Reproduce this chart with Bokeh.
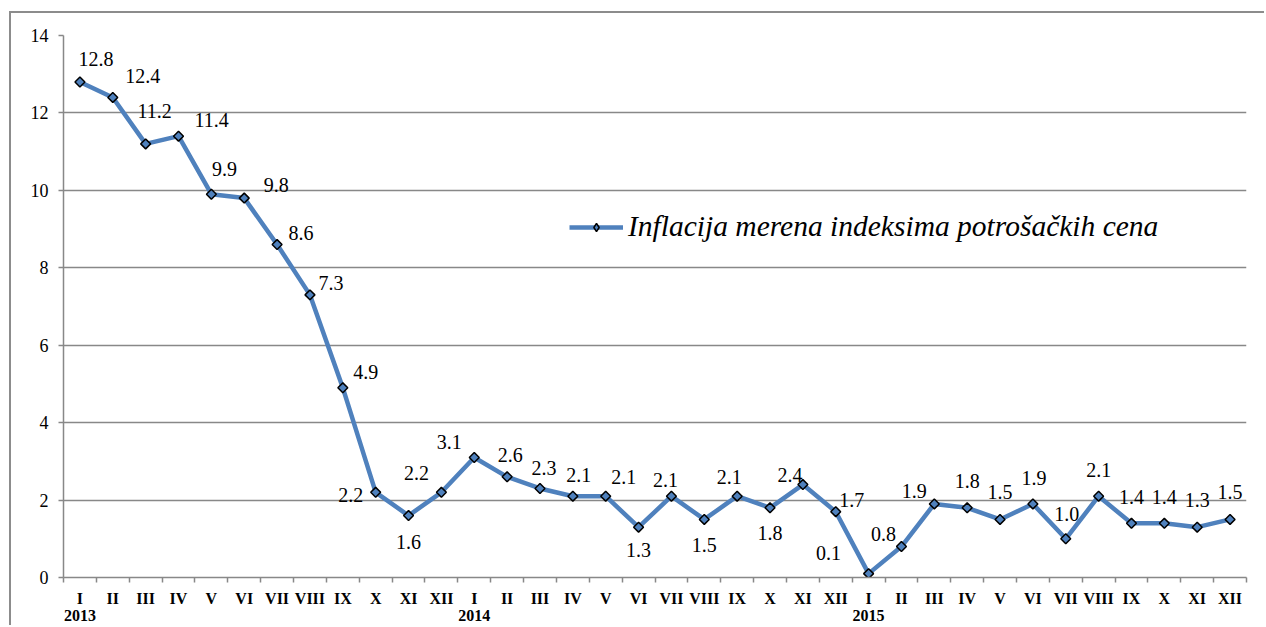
import numpy as np
from bokeh.plotting import figure
from bokeh.models import (ColumnDataSource, FixedTicker, LinearAxis, Range1d,
                          Legend, LegendItem, CustomJSTickFormatter, CDSView, IndexFilter)
from bokeh.core.properties import value
from bokeh.embed import file_html
from bokeh.resources import INLINE

# ---------------- data ----------------
months = ["I", "II", "III", "IV", "V", "VI", "VII", "VIII", "IX", "X", "XI", "XII"]
years = ["2013", "2014", "2015"]
inflation = [12.8, 12.4, 11.2, 11.4, 9.9, 9.8, 8.6, 7.3, 4.9, 2.2, 1.6, 2.2,
             3.1, 2.6, 2.3, 2.1, 2.1, 1.3, 2.1, 1.5, 2.1, 1.8, 2.4, 1.7,
             0.1, 0.8, 1.9, 1.8, 1.5, 1.9, 1.0, 2.1, 1.4, 1.4, 1.3, 1.5]
series_name = "Inflacija merena indeksima potrošačkih cena"
y_ticks = [0, 2, 4, 6, 8, 10, 12, 14]

# data-label placement (pixel offsets from each point; screen, down positive)
label_dx = [16, 30, 9, 33, 13, 32, 24, 21, 23, -25, 0, -25,
            -25, 3, 4, 6, 18, 0, -6, 0, -8, 0, -13, 16,
            -40, -18, -20, 0, 0, 1, 1, 0, 0, 0, 0, 0]
label_dy = [-23, -21, -33, -16, -25, -13, -12, -12, -16, 3, 26, -19,
            -15, -22, -20, -21, -19, 23, -16, 26, -19, 25, -10, -12,
            -21, -13, -13, -27, -27, -26, -25, -26, -26, -26, -27, -27]

# ---------------- figure ----------------
n = len(inflation)
xs = np.arange(n) + 0.5
month_labels = [months[i % 12] for i in range(n)]

GRAY = "#888888"
BLUE = "#4F81BD"
SERIF = "Liberation Serif"

p = figure(width=1255, height=614, x_range=Range1d(0, n), y_range=Range1d(0, 14),
           output_backend="svg", toolbar_location=None,
           min_border_left=52, min_border_right=20, min_border_top=22, min_border_bottom=50)
p.styles = {"border-left": "2px solid #8c8c8c", "border-top": "2px solid #8c8c8c",
            "margin-left": "9px", "margin-top": "11px"}
p.outline_line_color = None
p.background_fill_color = "white"
p.border_fill_color = "white"
p.xgrid.visible = False

# y axis + grid
yax = p.yaxis[0]
yax.ticker = FixedTicker(ticks=y_ticks)
yax.axis_line_color = GRAY
yax.axis_line_width = 1.5
yax.major_tick_line_color = GRAY
yax.major_tick_line_width = 1.5
yax.major_tick_out = 5
yax.major_tick_in = 0
yax.minor_tick_line_color = None
yax.major_label_text_font = SERIF
yax.major_label_text_font_size = "18px"
yax.major_label_text_color = "black"
yax.major_label_standoff = 10
p.ygrid.grid_line_color = GRAY
p.ygrid.grid_line_width = 1.5

# x axis: month labels at centres, tick marks at category boundaries
xax = p.xaxis[0]
xax.ticker = FixedTicker(ticks=list(xs), minor_ticks=list(range(n + 1)))
xax.formatter = CustomJSTickFormatter(args=dict(labels=month_labels),
                                      code="return labels[Math.floor(tick)] || '';")
xax.axis_line_color = GRAY
xax.axis_line_width = 1.5
xax.major_tick_line_color = None
xax.major_tick_out = 0
xax.major_tick_in = 0
xax.minor_tick_line_color = GRAY
xax.minor_tick_line_width = 1.5
xax.minor_tick_out = 5
xax.minor_tick_in = 0
xax.major_label_text_font = SERIF
xax.major_label_text_font_style = "bold"
xax.major_label_text_font_size = "16px"
xax.major_label_text_color = "black"
xax.major_label_standoff = 7

# year axis
yr_ax = LinearAxis(ticker=FixedTicker(ticks=[0.5 + 12 * k for k in range(len(years))]),
                   formatter=CustomJSTickFormatter(args=dict(years=years),
                                                   code="return years[Math.floor(tick / 12)] || '';"))
yr_ax.axis_line_color = None
yr_ax.major_tick_line_color = None
yr_ax.minor_tick_line_color = None
yr_ax.major_tick_out = 0
yr_ax.major_tick_in = 0
yr_ax.major_label_text_font = SERIF
yr_ax.major_label_text_font_style = "bold"
yr_ax.major_label_text_font_size = "16px"
yr_ax.major_label_text_color = "black"
yr_ax.major_label_standoff = 0
p.add_layout(yr_ax, "below")

# series
src = ColumnDataSource(dict(x=xs, y=inflation,
                            label=[f"{v:.1f}" for v in inflation],
                            dx=label_dx, dy=label_dy))
line_r = p.line("x", "y", source=src, line_color=BLUE, line_width=4.5)
# legend proxy marker (diamond), drawn for the first point only, hidden under the real marker
leg_mark = p.scatter("x", "y", source=src, view=CDSView(filter=IndexFilter(indices=[0])),
                     marker="diamond", size=6,
                     fill_color=BLUE, line_color="black", line_width=1.5)
pts_r = p.scatter("x", "y", source=src, marker="square", angle=np.pi / 4, size=7,
                  fill_color=BLUE, line_color="black", line_width=1.5)
p.text("x", "y", text="label", x_offset="dx", y_offset="dy", source=src,
       text_font=value(SERIF), text_font_size="20px", text_color="black",
       text_align="center", text_baseline="middle")

legend = Legend(items=[LegendItem(label=series_name, renderers=[line_r, leg_mark])],
                location=(506, 334), margin=0, padding=0, spacing=0,
                glyph_width=54, glyph_height=20, label_standoff=5,
                label_text_font=SERIF, label_text_font_style="italic",
                label_text_font_size="29.5px", label_text_color="black",
                border_line_color=None, background_fill_alpha=0)
p.add_layout(legend)

open("out.html", "w").write(file_html(p, INLINE))
